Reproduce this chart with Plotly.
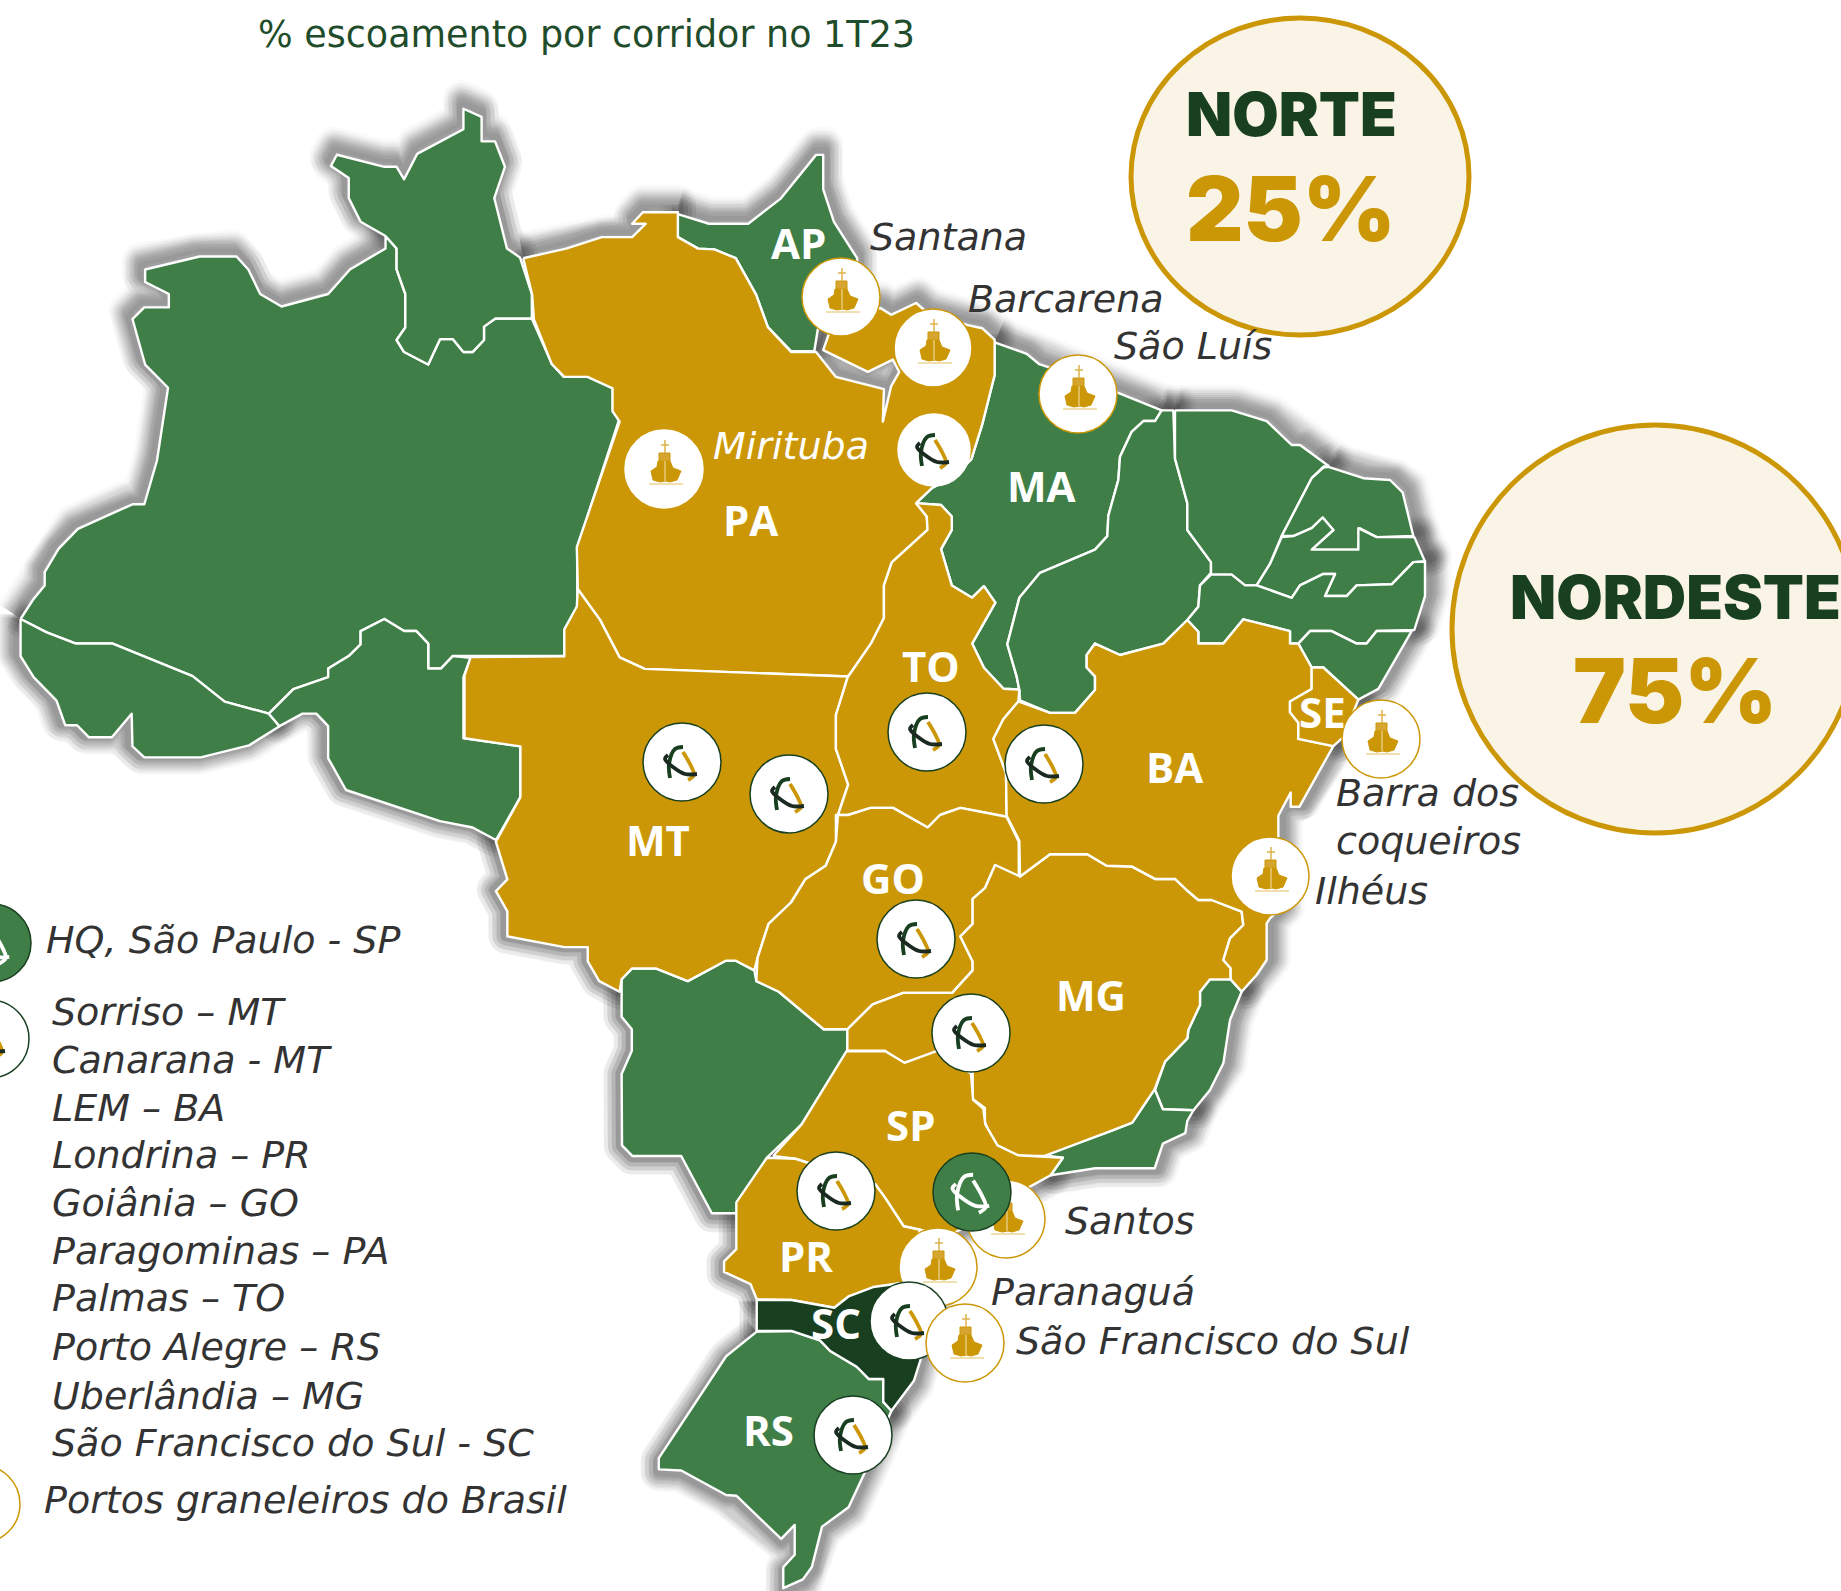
import plotly.graph_objects as go

W, H = 1841, 1591
GREEN, GOLD, DARK, CREAM, TITLE = "#3F7F47", "#CC9706", "#183F20", "#FAF4E6", "#1F4D2B"
FONT = "Open Sans"
TEXT_FONT = "DejaVu Sans"


def crop(ox, oy, sx, sy):
    return lambda pts: [(ox + a / sx, oy + b / sy) for a, b in pts]


c1, c2, c3 = crop(0, 90, 2.529, 2.24), crop(500, 130, 2.8, 2.613), crop(980, 380, 3, 2.8)
c4, c5, c6 = crop(440, 640, 2.45, 2.8), crop(620, 1040, 2.45, 2.846), crop(1130, 890, 3, 3)

# ---- state outlines ----
AM = c1([(52,1185),(85,1140),(113,1110),(113,1080),(148,1028),(197,983),(335,928),(365,928),(397,830),(425,667),(367,615),(335,513),(365,487),(427,487),(427,457),(367,430),(367,402),(505,373),(598,373),(628,402),(658,457),(712,485),(830,457),(885,402),(975,355),(975,327),(1003,355),(1003,402),(1025,457),(1025,532),(1003,560),(1022,587),(1083,615),(1113,558),(1145,558),(1172,587),(1195,587),(1224,560),(1224,530),(1253,512),(1345,512),(1395,612),(1425,642),(1488,642),(1550,667),(1550,715),(1565,740),(1460,1025),(1460,1160),(1428,1210),(1428,1268),(1145,1268),(1115,1296),(1083,1296),(1083,1240),(1053,1212),(1022,1212),(972,1185),(912,1212),(912,1242),(882,1268),(830,1296),(830,1315),(742,1342),(680,1397),(568,1370),(487,1313),(285,1240),(192,1240),(118,1215)])
RR = c1([(975,327),(912,295),(882,242),(882,197),(837,170),(852,145),(972,172),(1003,172),(1022,200),(1055,143),(1172,88),(1172,42),(1218,60),(1218,115),(1252,115),(1277,172),(1250,242),(1282,355),(1315,375),(1345,457),(1345,512),(1253,512),(1224,530),(1224,560),(1195,587),(1172,587),(1145,558),(1113,558),(1083,615),(1022,587),(1003,560),(1025,532),(1025,457),(1003,402),(1003,355)])
AC = c1([(52,1185),(52,1268),(85,1315),(143,1368),(165,1423),(195,1423),(225,1450),(283,1450),(333,1397),(335,1470),(365,1495),(508,1495),(630,1468),(707,1425),(680,1397),(568,1370),(487,1313),(285,1240),(192,1240),(118,1215)])
RO = c1([(680,1397),(742,1342),(830,1315),(830,1296),(882,1268),(912,1242),(912,1212),(972,1185),(1022,1212),(1053,1212),(1083,1240),(1083,1296),(1115,1296),(1145,1268),(1190,1272),(1172,1315),(1172,1452)]) + c4([(60,275),(197,298),(197,440),(137,560),(80,525),(0,507)]) + c1([(875,1568),(830,1497),(830,1425),(800,1397),(765,1397),(707,1425)])
PA = c2([(65,335),(185,310),(285,280),(370,280),(408,245),(370,245),(400,215),(498,215),(498,280),(555,310),(600,312),(660,335),(717,430),(750,515),(815,580),(885,580),(940,645),(1075,677),(1072,762),(1095,670),(1118,632),(1100,600),(1030,632),(905,575),(920,535),(1000,470),(1065,465),(1095,483),(1165,452),(1200,480),(1310,510),(1350,518),(1385,548),(1385,640),(1350,770),(1320,860),(1270,905),(1210,935),(1165,975),(1195,1010),(1197,1045),(1097,1130),(1075,1190),(1075,1275),(1040,1340),(975,1428),(405,1408),(335,1378),(280,1280),(218,1200),(215,1090),(335,762),(315,735),(315,675),(245,645),(180,645),(145,612),(95,495),(90,430)])
AP = c2([(498,220),(585,245),(695,245),(785,180),(885,65),(905,65),(905,155),(935,240),(1000,335),(1000,400),(890,520),(880,578),(815,578),(750,515),(717,430),(660,335),(600,312),(555,310),(498,280)])
MA = c2([(1385,555),(1475,585),(1510,612),(1568,630)]) + c3([(420,38),(480,60),(535,82),(545,85),(525,115),(490,115),(455,145),(420,215),(415,280),(385,380),(382,437),(345,475),(180,540),(118,610),(82,740),(110,830),(118,868)]) + c2([(1450,1462),(1410,1460),(1355,1405),(1322,1342),(1387,1235),(1355,1192),(1322,1222),(1265,1190),(1235,1095),(1265,1045),(1265,1010),(1235,980),(1165,975),(1210,935),(1270,905),(1320,860),(1350,770),(1385,640)])
PI = c3([(545,85),(580,85),(585,220),(622,345),(622,420),(693,510),(693,540),(660,575),(655,635),(622,672),(550,738),(420,770),(345,738),(320,770),(320,805),(345,830),(345,868),(285,932),(210,932),(120,897),(118,868),(110,830),(82,740),(118,610),(180,540),(345,475),(382,437),(385,380),(415,280),(420,215),(455,145),(490,115),(525,115)])
CE = c3([(585,85),(755,85),(860,115),(935,182),(960,182),(1045,240),(1030,243),(995,275),(905,437),(870,515),(830,575),(795,575),(755,545),(693,545),(693,510),(622,420),(622,345),(585,220)])
RN = c3([(1045,243),(1150,275),(1230,280),(1268,315),(1300,437),(1190,440),(1140,415),(1135,475),(995,475),(1060,420),(1028,385),(995,415),(940,437),(905,437),(995,275),(1030,245)])
PB = c3([(905,440),(940,437),(995,415),(1028,385),(1060,420),(995,475),(1135,475),(1135,415),(1190,440),(1303,440),(1335,508),(1300,510),(1235,572),(1130,575),(1100,605),(1035,605),(1065,543),(1030,543),(960,575),(935,610),(830,575),(870,515)])
PE = c3([(830,575),(935,610),(960,575),(1030,543),(1065,543),(1035,605),(1100,605),(1130,575),(1235,572),(1300,510),(1335,508),(1335,605),(1303,700),(1190,703),(1160,738),(1130,738),(1055,703),(990,703),(955,738),(930,738),(930,703),(790,670),(730,738),(655,738),(655,705),(622,672),(655,635),(660,575),(693,545),(755,545),(795,575)])
AL = c3([(955,738),(990,703),(1055,703),(1130,738),(1160,738),(1190,703),(1295,703),(1195,865),(1135,895),(1030,805),(995,805)])
SE = c3([(995,805),(1030,805),(1135,895),(1090,1000),(1060,1025),(955,1005),(955,960),(930,930),(930,900),(995,865)])
BA = c3([(622,672),(655,705),(655,738),(730,738),(790,670),(930,703),(930,738),(955,738),(995,805),(995,865),(930,900),(930,930),(955,960),(955,1005),(1060,1025),(958,1195),(932,1195),(932,1155),(895,1220),(895,1330),(900,1480)]) + c6([(420,85),(410,100),(410,210),(380,255),(335,305),(302,268),(302,235),(280,210),(300,145),(340,105),(335,65),(245,30),(205,30),(170,0)]) + c3([(585,1397),(525,1397),(455,1362),(380,1360),(322,1328),(210,1328),(120,1390),(118,1290),(80,1220),(78,1100),(40,1005),(70,950),(115,900),(210,932),(285,932),(345,868),(345,830),(320,805),(320,770),(345,738),(420,770),(550,738)])
TO = c2([(1165,975),(1195,1010),(1197,1045),(1097,1130),(1075,1190),(1075,1275),(1040,1340),(975,1428)]) + c4([(1000,100),(970,210),(970,305),(1000,405),(975,490),(1000,490),(1055,470),(1110,470),(1195,525),(1225,490),(1275,470),(1388,495)]) + c3([(78,1100),(40,1005),(70,950),(115,900),(118,868)]) + c2([(1450,1462),(1410,1460),(1355,1405),(1322,1342),(1387,1235),(1355,1192),(1322,1222),(1265,1190),(1235,1095),(1265,1045),(1265,1010),(1235,980)])
MT = c4([(75,48),(60,100),(60,275),(197,298),(197,440),(137,565),(165,670),(137,703),(165,760),(165,830),(305,860),(362,860),(362,900),(390,955),(440,985),(445,950),(470,920),(530,920),(607,955),(700,898),(725,898),(770,925),(778,890),(805,795),(860,735),(895,670),(945,632),(970,565),(970,490),(975,490),(1000,405),(970,305),(970,210),(1000,100)]) + c2([(975,1428),(405,1408),(335,1378),(280,1280),(218,1200),(215,1245),(180,1305),(180,1375)])
MS = c4([(445,950),(470,920),(530,920),(607,955),(700,898),(725,898),(770,925),(775,955),(830,985),(940,1090),(998,1090),(998,1150)]) + c5([(445,240),(360,335),(283,493),(225,493),(150,330),(30,330),(5,300)]) + c4([(445,1215),(470,1150),(470,1090),(445,1055)])
GO = c4([(975,490),(1000,490),(1055,470),(1110,470),(1195,525),(1225,490),(1275,470),(1388,495),(1418,565),(1418,665),(1360,630),(1335,695),(1305,725),(1305,795),(1275,830),(1305,900),(1305,925),(1255,988),(1135,988),(1060,1020),(998,1090),(940,1090),(830,985),(775,955),(778,890),(805,795),(860,735),(895,670),(945,632),(970,565)])
MG = c4([(998,1090),(998,1150),(1090,1150),(1135,1185),(1215,1155),(1305,1210),(1305,1285),(1335,1310),(1335,1350),(1360,1415),(1420,1445),(1480,1445)]) + c5([(1200,260),(1255,235),(1310,140)]) + c6([(105,515),(172,445),(175,420),(210,345),(210,305),(240,268),(302,268),(302,235),(280,210),(300,145),(340,105),(335,65),(245,30),(205,30),(170,0)]) + c3([(585,1397),(525,1397),(455,1362),(380,1360),(322,1328),(210,1328),(120,1390)]) + c4([(1360,630),(1335,695),(1305,725),(1305,795),(1275,830),(1305,900),(1305,925),(1255,988),(1135,988),(1060,1020)])
ES = c6([(240,268),(302,268),(335,305),(300,390),(280,520),(240,600)]) + c5([(1405,200),(1330,197),(1310,140)]) + c6([(75,600),(105,515),(172,445),(175,420),(210,345),(210,305)])
RJ = c5([(1035,328),(1085,335),(1055,385),(1165,365),(1310,365),(1330,295),(1385,265),(1390,230),(1405,200),(1330,197),(1310,140),(1255,235),(1200,260)])
SP = c5([(375,330),(445,240),(555,32),(650,32),(697,65),(775,32),(860,95),(865,170),(890,195),(895,240),(925,300),(975,328),(1085,335),(1055,385),(1000,420),(900,500),(800,560),(735,540),(695,530),(650,450),(625,410),(460,350),(430,338)])
PR = c5([(360,335),(430,338),(460,350),(625,410),(650,450),(695,530),(735,540),(700,690),(620,705),(560,730),(525,762),(420,740),(335,738),(320,695),(255,660),(255,630),(285,595),(285,462)])
SC = c5([(335,740),(420,740),(525,762),(560,730),(620,703),(700,690),(770,760),(735,915),(720,970),(665,1055),(645,1030),(645,965),(610,965),(580,930),(515,885),(490,855),(420,828),(335,828)])
RS = c5([(335,830),(420,828),(490,855),(515,885),(580,930),(610,965),(645,965),(645,1030),(665,1055),(600,1230),(560,1330),(495,1385),(470,1500),(448,1535),(400,1560),(400,1500),(428,1465),(428,1380),(395,1420),(285,1297),(260,1295),(150,1225),(95,1222),(95,1190),(260,900)])

GREEN_STATES = [AM, RR, AC, RO, AP, MA, PI, CE, RN, PB, PE, AL, MS, ES, RJ, RS]
GOLD_STATES = [PA, MT, TO, GO, MG, SP, PR, BA, SE]
DARK_STATES = [SC]

# ---- sites ----
SITE_NAME = ["Santana", "Barcarena", "Sao Luis", "Miritituba", "Paragominas", "Sorriso", "Canarana", "Palmas", "LEM", "Goiania", "Uberlandia", "Londrina", "Barra dos Coqueiros", "Ilheus", "Santos", "HQ", "Paranagua", "Sao Francisco unit", "Sao Francisco port", "Porto Alegre", "Legenda HQ", "Legenda unidade", "Legenda porto"]
SITE_X = [841, 933, 1078, 664, 934, 682, 789, 927, 1044, 916, 971, 836, 1381, 1270, 1006, 972, 938, 909, 965, 853, -8, -10, -19]
SITE_Y = [297, 348, 394, 469, 450, 762, 794, 732, 764, 939, 1033, 1191, 739, 876, 1219, 1192, 1267, 1321, 1343, 1435, 943, 1039, 1504]
SITE_KIND = ["port", "port", "port", "port_w", "unit_w", "unit", "unit", "unit", "unit", "unit", "unit", "unit", "port", "port", "port", "hq", "port", "unit", "port", "unit", "hq", "unit", "port"]

# ---- text ----
STATE_LABEL = ["AP", "PA", "MA", "TO", "MT", "GO", "BA", "MG", "SP", "PR", "SC", "RS", "SE"]
STATE_LABEL_X = [798, 750, 1041, 931, 658, 893, 1174, 1091, 911, 806, 836, 768, 1322]
STATE_LABEL_Y = [242, 519, 485, 665, 839, 877, 766, 994, 1124, 1255, 1322, 1429, 711]

PLACE_LABEL = ["Santana", "Barcarena", "São Luís", "Barra dos", "coqueiros", "Ilhéus", "Santos", "Paranaguá", "São Francisco do Sul", "HQ, São Paulo - SP", "Sorriso – MT", "Canarana - MT", "LEM – BA", "Londrina – PR", "Goiânia – GO", "Paragominas – PA", "Palmas – TO", "Porto Alegre – RS", "Uberlândia – MG", "São Francisco do Sul - SC", "Portos graneleiros do Brasil"]
PLACE_X = [868, 966, 1112, 1334, 1334, 1313, 1063, 989, 1014, 44, 50, 50, 50, 50, 50, 50, 50, 50, 50, 50, 42]
PLACE_Y = [237, 299, 346, 793, 841, 891, 1221, 1292, 1341, 940, 1012, 1060, 1108, 1155, 1203, 1251, 1298, 1347, 1396, 1443, 1500]

TITLE_TEXT = "% escoamento por corridor no 1T23"
CORRIDOR = ["NORTE", "NORDESTE"]
CORRIDOR_SHARE = ["25%", "75%"]
CORRIDOR_X = [1291, 1675]
CORRIDOR_NAME_Y = [114, 597]
CORRIDOR_SHARE_Y = [208, 690]

# ---- glyphs, offsets from a site's centre ----
LOGO_GREEN = [(-12, 16), (-13, 2), (-7, -13), (1, -15)]
LOGO_GOLD = [(1, -10), (9, 4), (12, 13), (6, 18)]
LOGO_BLACK = [(-14, -7), (-17, -3), (-9, 5), (3, 12), (15, 12)]
SHIP_HULL = [(-13, 2), (-7, -2), (-6, -8), (6, -8), (9, -1), (17, 2), (13, 11), (6, 13), (2, 12), (-4, 13), (-11, 11)]
SHIP_TOP = [(-5, -16), (6, -16), (6, -8), (-5, -8)]
SHIP_MAST = [(1, -29), (1, -16)]
SHIP_SPAR = [(-3, -24), (5, -24)]
SHIP_WATER = [(-15, 15), (19, 15)]
SHIP_KEEL = [(1, -8), (1, 12)]


def closed(pts):
    return pts + pts[:1]


def xs(pts, cx=0, k=1.0):
    return [cx + (p[0] - cx) * k for p in pts]


def ys(pts, cy=0, k=1.0):
    return [cy + (p[1] - cy) * k for p in pts]


def at(cx, cy, pts, k=1.0):
    return [cx + p[0] * k for p in pts], [cy + p[1] * k for p in pts]


fig = go.Figure()
ALL = GREEN_STATES + GOLD_STATES + DARK_STATES

# soft shadow, pushed outward from the middle of the map
SCX, SCY = 650, 1080
for k in [1.002, 1.005, 1.008, 1.011]:
    for width, alpha in [(36, .025), (28, .03), (20, .04), (12, .05)]:
        sx_, sy_ = [], []
        for st in ALL:
            c = closed(st)
            sx_ += xs(c, SCX, k) + [None]
            sy_ += ys(c, SCY, k) + [None]
        fig.add_trace(go.Scatter(x=sx_, y=sy_, mode="lines", line=dict(color=f"rgba(40,40,40,{alpha})", width=width), hoverinfo="skip"))

for group, col in [(GREEN_STATES, GREEN), (GOLD_STATES, GOLD), (DARK_STATES, DARK)]:
    for st in group:
        c = closed(st)
        fig.add_trace(go.Scatter(x=xs(c), y=ys(c), mode="lines", fill="toself", fillcolor=col, line=dict(color="white", width=2.4), hoverinfo="skip"))

for cx, cy, kind in zip(SITE_X, SITE_Y, SITE_KIND):
    if kind.startswith("port"):
        border = "white" if kind == "port_w" else GOLD
        fill = "white"
    elif kind == "hq":
        border, fill = DARK, GREEN
    else:
        border = "white" if kind == "unit_w" else DARK
        fill = "white"
    size = 72 if kind == "unit_w" else 78
    fig.add_trace(go.Scatter(x=[cx], y=[cy], mode="markers", marker=dict(size=size, color=fill, line=dict(color=border, width=1.5)), hoverinfo="skip"))
    if kind.startswith("port"):
        x, y = at(cx, cy, closed(SHIP_HULL))
        fig.add_trace(go.Scatter(x=x, y=y, mode="lines", fill="toself", fillcolor=GOLD, line=dict(color=GOLD, width=1), hoverinfo="skip"))
        x, y = at(cx, cy, closed(SHIP_TOP))
        fig.add_trace(go.Scatter(x=x, y=y, mode="lines", fill="toself", fillcolor="#D5A52F", line=dict(color=GOLD, width=1), hoverinfo="skip"))
        for seg, col, wd in [(SHIP_MAST, "#DDB24A", 1.5), (SHIP_SPAR, "#DDB24A", 1.5), (SHIP_WATER, "#F1DFB0", 2), (SHIP_KEEL, "#F3E2B5", 1)]:
            x, y = at(cx, cy, seg)
            fig.add_trace(go.Scatter(x=x, y=y, mode="lines", line=dict(color=col, width=wd), hoverinfo="skip"))
    else:
        k = 1.15 if kind == "hq" else 1.0
        colors = ["white"] * 3 if kind == "hq" else [DARK, GOLD, "#1B2A20"]
        for seg, col in zip([LOGO_GREEN, LOGO_GOLD, LOGO_BLACK], colors):
            x, y = at(cx, cy, seg, k)
            fig.add_trace(go.Scatter(x=x, y=y, mode="lines", line=dict(color=col, width=3.8, shape="spline"), hoverinfo="skip"))


def note(text, x, y, size, color, anchor="center", weight=400, style="normal", family=FONT):
    fig.add_annotation(x=x, y=y, text=text, showarrow=False, xanchor=anchor, yanchor="middle",
                       font=dict(family=family, size=size, color=color, weight=weight, style=style))


for t, x, y in zip(STATE_LABEL, STATE_LABEL_X, STATE_LABEL_Y):
    note(t, x, y, 42, "white", weight=700)
for t, x, y in zip(PLACE_LABEL, PLACE_X, PLACE_Y):
    note(t, x, y, 38, "#333333", anchor="left", style="italic", family=TEXT_FONT)
note("Mirituba", 711, 446, 38, "white", anchor="left", style="italic", family=TEXT_FONT)
note(TITLE_TEXT, 256, 34, 36.5, TITLE, anchor="left", family=TEXT_FONT)
for n, s, x, yn, ys_ in zip(CORRIDOR, CORRIDOR_SHARE, CORRIDOR_X, CORRIDOR_NAME_Y, CORRIDOR_SHARE_Y):
    note(n, x, yn, 60, DARK, weight=900, family="Inter")
    note(s, x, ys_, 89, GOLD, weight=900, family="Inter")

fig.update_layout(
    width=W, height=H, margin=dict(l=0, r=0, t=0, b=0), showlegend=False,
    paper_bgcolor="white", plot_bgcolor="white",
    xaxis=dict(range=[0, W], visible=False, fixedrange=True),
    yaxis=dict(range=[H, 0], visible=False, fixedrange=True),
    shapes=[
        dict(type="circle", xref="x", yref="y", x0=1131, x1=1469, y0=18, y1=335, fillcolor=CREAM, line=dict(color=GOLD, width=5), layer="above"),
        dict(type="circle", xref="x", yref="y", x0=1452, x1=1858, y0=425, y1=833, fillcolor=CREAM, line=dict(color=GOLD, width=5), layer="above"),
    ],
)
fig.write_html(
    "out.html",
    post_script="document.body.style.margin='0';document.head.insertAdjacentHTML('beforeend','<style>.scatterlayer .js-line{stroke-linejoin:round !important}</style>');",
    config={"displayModeBar": False},
)
